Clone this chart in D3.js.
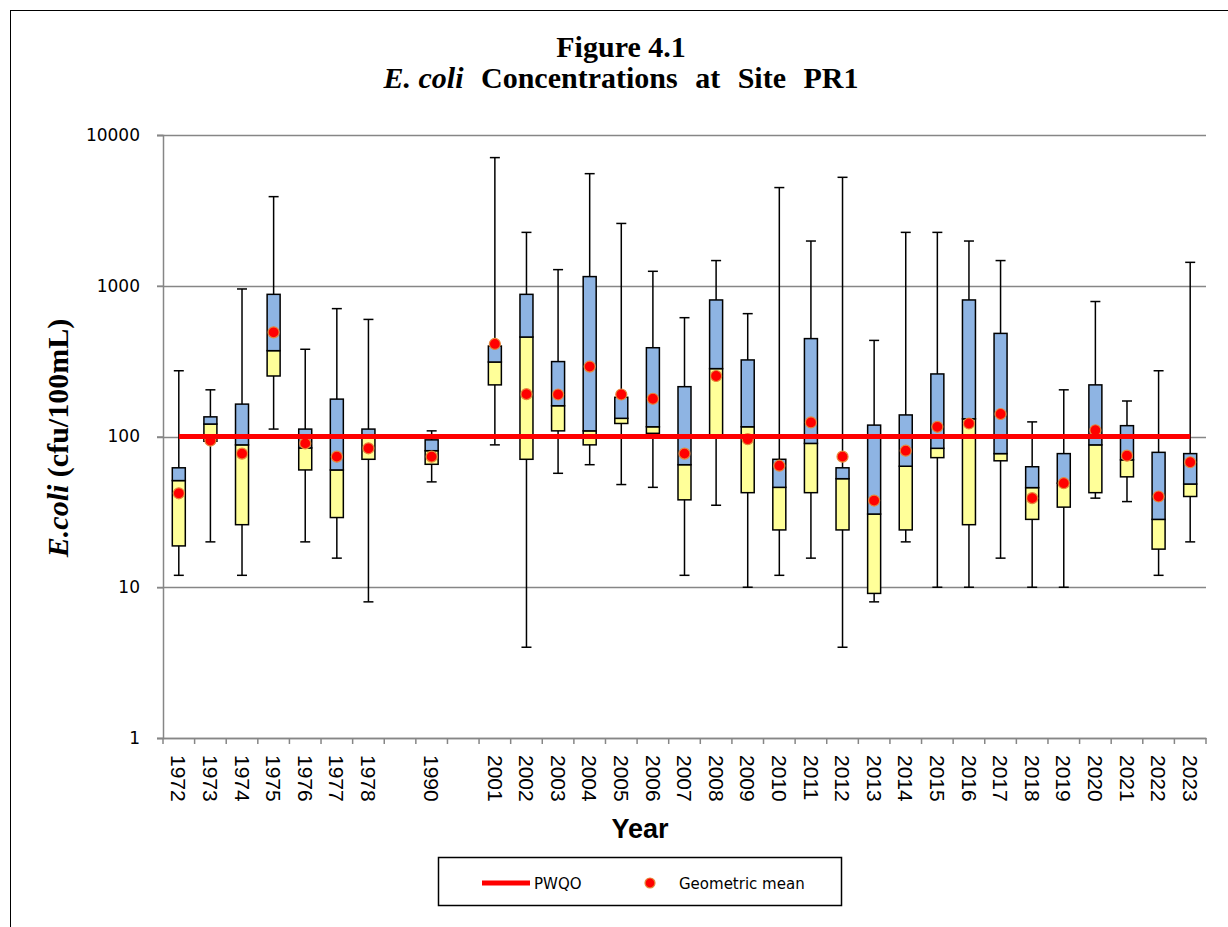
<!DOCTYPE html>
<html>
<head>
<meta charset="utf-8">
<script src="https://cdn.jsdelivr.net/npm/d3@7"></script>
<style>
  body { margin: 0; background: #fff; }
  svg { display: block; }
</style>
</head>
<body>
<script>
// slots on the x axis (two empty slots keep the gaps between 1978/1990/2001)
var slots = ["1972", "1973", "1974", "1975", "1976", "1977", "1978", "gap-a", "1990", "gap-b",
  "2001", "2002", "2003", "2004", "2005", "2006", "2007", "2008", "2009", "2010", "2011", "2012",
  "2013", "2014", "2015", "2016", "2017", "2018", "2019", "2020", "2021", "2022", "2023"];

var years = ["1972", "1973", "1974", "1975", "1976", "1977", "1978", "1990",
  "2001", "2002", "2003", "2004", "2005", "2006", "2007", "2008", "2009", "2010", "2011", "2012",
  "2013", "2014", "2015", "2016", "2017", "2018", "2019", "2020", "2021", "2022", "2023"];

var minimum = [12, 20, 12, 112, 20, 15.6, 8, 50,
  88, 4, 57, 65, 48, 46, 12, 35, 10, 12, 15.6, 4,
  8, 20, 10, 10, 15.6, 10, 10, 39, 37, 12, 20];
var quartile1 = [18.8, 93, 26, 252, 60, 29, 70.6, 65.4,
  220, 70.6, 109, 88, 122, 105, 38, 100, 42.4, 24, 42.4, 24,
  9.1, 24, 72.4, 26, 69, 28.2, 34, 42.4, 54, 17.9, 40];
var median = [51, 121, 88, 371, 84, 60, 98, 80.5,
  312, 457, 160, 109, 132, 116, 65, 282, 116, 46, 90, 52.5,
  30.6, 63.5, 83.5, 131, 77, 45.8, 49, 88, 70, 28.2, 48.4];
var quartile3 = [62, 135, 164, 877, 112, 177, 112, 95,
  398, 877, 314, 1150, 182, 388, 214, 805, 322, 70.6, 446, 62,
  119, 139, 260, 805, 483, 63, 77, 220, 118, 78.5, 77];
var maximum = [273, 204, 952, 3900, 379, 705, 598, 109,
  7080, 2260, 1279, 5540, 2590, 1247, 614, 1469, 653, 4480, 1980, 5240,
  434, 2260, 2260, 1980, 1469, 125, 204, 786, 172, 273, 1430];
var geoMean = [42, 94, 77, 491, 90, 73.5, 83.5, 73.5,
  411, 191, 190, 291, 190, 178, 77, 252, 96, 64, 124, 73.5,
  37.6, 80.5, 116, 122, 141, 39, 49, 110, 74.6, 40, 67.5];

var yTicks = [1, 10, 100, 1000, 10000];
var pwqo = 100;

var W = 1228, H = 927;
var plot = { left: 163, right: 1206, top: 135, bottom: 738 };

var svg = d3.select("body").append("svg")
    .attr("width", W)
    .attr("height", H);

// chart area border
svg.append("rect")
    .attr("x", 10.5).attr("y", 10.5)
    .attr("width", 1400).attr("height", 1200)
    .attr("fill", "none").attr("stroke", "#000").attr("stroke-width", 1);

var x = d3.scaleBand().domain(slots).range([plot.left, plot.right]);
var y = d3.scaleLog().domain([1, 10000]).range([plot.bottom, plot.top]);

// title
var title = svg.append("text")
    .attr("text-anchor", "middle")
    .attr("font-family", "'Liberation Serif', 'Times New Roman', serif")
    .attr("font-weight", "bold")
    .attr("font-size", 30);
title.append("tspan").attr("x", 621).attr("y", 57).text("Figure 4.1");
var t2 = title.append("tspan").attr("x", 621).attr("y", 88);
t2.append("tspan").attr("font-style", "italic").text("E. coli");
t2.append("tspan").attr("word-spacing", 10).text(" Concentrations at Site PR1");

// gridlines
svg.append("g").selectAll("line").data(yTicks).join("line")
    .attr("x1", plot.left - 6).attr("x2", plot.right)
    .attr("y1", function (d) { return Math.round(y(d)) + 0.5; })
    .attr("y2", function (d) { return Math.round(y(d)) + 0.5; })
    .attr("stroke", "#868686").attr("stroke-width", 1.5);

// y axis
var yAxis = d3.axisLeft(y).tickValues(yTicks).tickFormat(d3.format("d")).tickSize(6).tickPadding(17);
var gy = svg.append("g")
    .attr("transform", "translate(" + plot.left + ",0)")
    .call(yAxis);
gy.selectAll("path, line").attr("stroke", "#868686").attr("stroke-width", 1.5);
gy.selectAll("text")
    .attr("font-family", "'DejaVu Sans', sans-serif")
    .attr("font-size", 17).attr("fill", "#000");

// x axis
var xAxis = d3.axisBottom(x).tickSize(0).tickFormat(function (d) { return d.indexOf("gap") === 0 ? "" : d; });
var gx = svg.append("g")
    .attr("transform", "translate(0," + plot.bottom + ")")
    .call(xAxis);
gx.select(".domain").attr("stroke", "#868686").attr("stroke-width", 1.5);
gx.selectAll("text")
    .attr("font-family", "'Liberation Sans', Arial, sans-serif")
    .attr("font-size", 21).attr("fill", "#000")
    .attr("transform", "rotate(90)")
    .attr("text-anchor", "start")
    .attr("x", 17).attr("y", 0).attr("dy", "0.35em");
// tick marks on band boundaries
var bounds = slots.map(function (s) { return x(s); }).concat([plot.right]);
gx.selectAll(".bound").data(bounds).join("line")
    .attr("class", "bound")
    .attr("x1", function (d) { return d; }).attr("x2", function (d) { return d; })
    .attr("y1", 0).attr("y2", 6)
    .attr("stroke", "#868686").attr("stroke-width", 1.5);

// axis titles
svg.append("text")
    .attr("x", 640).attr("y", 838)
    .attr("text-anchor", "middle")
    .attr("font-family", "'Liberation Sans', Arial, sans-serif")
    .attr("font-weight", "bold").attr("font-size", 27)
    .text("Year");

var yt = svg.append("text")
    .attr("transform", "translate(68,438) rotate(-90)")
    .attr("text-anchor", "middle")
    .attr("font-family", "'Liberation Serif', 'Times New Roman', serif")
    .attr("font-weight", "bold").attr("font-size", 30);
yt.append("tspan").attr("font-style", "italic").text("E.coli");
yt.append("tspan").text(" (cfu/100mL)");

// box plots
var rows = years.map(function (yr, i) {
  return { year: yr, min: minimum[i], q1: quartile1[i], med: median[i], q3: quartile3[i], max: maximum[i], mean: geoMean[i] };
});
var bw = 13, cap = 10;
var boxes = svg.append("g").selectAll("g").data(rows).join("g")
    .attr("transform", function (d) { return "translate(" + (x(d.year) + x.bandwidth() / 2) + ",0)"; });

boxes.append("line")
    .attr("x1", 0).attr("x2", 0)
    .attr("y1", function (d) { return y(d.min); })
    .attr("y2", function (d) { return y(d.max); })
    .attr("stroke", "#000").attr("stroke-width", 1.5);
boxes.append("line")
    .attr("x1", -cap / 2).attr("x2", cap / 2)
    .attr("y1", function (d) { return y(d.max); }).attr("y2", function (d) { return y(d.max); })
    .attr("stroke", "#000").attr("stroke-width", 1.5);
boxes.append("line")
    .attr("x1", -cap / 2).attr("x2", cap / 2)
    .attr("y1", function (d) { return y(d.min); }).attr("y2", function (d) { return y(d.min); })
    .attr("stroke", "#000").attr("stroke-width", 1.5);

boxes.append("rect")
    .attr("x", -bw / 2).attr("width", bw)
    .attr("y", function (d) { return y(d.med); })
    .attr("height", function (d) { return y(d.q1) - y(d.med); })
    .attr("fill", "#FFFF99").attr("stroke", "#000").attr("stroke-width", 1.5);
boxes.append("rect")
    .attr("x", -bw / 2).attr("width", bw)
    .attr("y", function (d) { return y(d.q3); })
    .attr("height", function (d) { return y(d.med) - y(d.q3); })
    .attr("fill", "#8EB4E3").attr("stroke", "#000").attr("stroke-width", 1.5);

// PWQO line
svg.append("line")
    .attr("x1", x(years[0]) + x.bandwidth() / 2)
    .attr("x2", x(years[years.length - 1]) + x.bandwidth() / 2)
    .attr("y1", y(pwqo)).attr("y2", y(pwqo))
    .attr("stroke", "#FF0000").attr("stroke-width", 5);

// geometric means
boxes.append("circle")
    .attr("cy", function (d) { return y(d.mean); })
    .attr("r", 5.5)
    .attr("fill", "#FF0000").attr("stroke", "#E7883A").attr("stroke-width", 1.2);

// legend
var lg = svg.append("g").attr("transform", "translate(438,857)");
lg.append("rect").attr("x", 0.5).attr("y", 0.5).attr("width", 403).attr("height", 48)
    .attr("fill", "#fff").attr("stroke", "#000").attr("stroke-width", 1.5);
lg.append("line").attr("x1", 44).attr("x2", 92).attr("y1", 26).attr("y2", 26)
    .attr("stroke", "#FF0000").attr("stroke-width", 5);
lg.append("text").attr("x", 96).attr("y", 32)
    .attr("font-family", "'DejaVu Sans', sans-serif").attr("font-size", 15)
    .text("PWQO");
lg.append("circle").attr("cx", 212).attr("cy", 26).attr("r", 5)
    .attr("fill", "#FF0000").attr("stroke", "#E7883A").attr("stroke-width", 1.2);
lg.append("text").attr("x", 241).attr("y", 32)
    .attr("font-family", "'DejaVu Sans', sans-serif").attr("font-size", 15)
    .text("Geometric mean");
</script>
</body>
</html>
